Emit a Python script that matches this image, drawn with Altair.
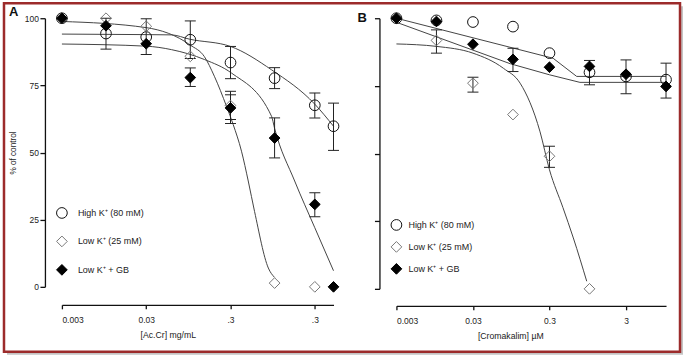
import altair as alt
import pandas as pd

FONT = "Liberation Sans"
SERIES = ["High K\u207a (80 mM)", "Low K\u207a (25 mM)", "Low K\u207a + GB"]
SHAPES = ["circle", "diamond", "diamond"]
FILLS = ["transparent", "transparent", "#000000"]
STROKES = ["#111111", "#777777", "#000000"]

# ---------------- Panel A : [Ac.Cr] mg/mL ----------------
A_HIGH_X = [0.003, 0.01, 0.03, 0.1, 0.3, 1, 3, 5]
A_HIGH_Y = [100, 94.3, 93.0, 92.0, 83.5, 77.7, 67.6, 59.8]
A_LOW_X = [0.003, 0.01, 0.03, 0.1, 0.3, 1, 3]
A_LOW_Y = [100, 100, 97.0, 85.8, 67.5, 1.4, 0]
A_GB_X = [0.003, 0.01, 0.03, 0.1, 0.3, 1, 3, 5]
A_GB_Y = [100, 97.2, 90.5, 77.9, 66.6, 55.4, 30.7, 0]

A_ERR_SERIES = [0, 0, 0, 0, 0, 0, 0, 1, 2, 2, 2, 2]
A_ERR_X = [0.01, 0.03, 0.1, 0.3, 1, 3, 5, 0.3, 0.1, 0.3, 1, 3]
A_ERR_LO = [88.5, 86.5, 85.0, 77.5, 73.8, 62.9, 50.8, 60.8, 74.6, 62.3, 48.0, 26.1]
A_ERR_HI = [100, 99.8, 99.0, 89.5, 81.6, 72.2, 68.4, 71.5, 81.5, 72.8, 62.9, 35.0]

A_FIT_HIGH_X = [0.003, 0.03, 0.06, 0.098, 0.3, 0.92, 3, 5]
A_FIT_HIGH_Y = [94.1, 93.9, 93.8, 92.2, 89.5, 80.8, 68.0, 59.8]
A_FIT_LOW_X = [0.003, 0.03, 0.1, 0.147, 0.193, 0.269, 0.323, 0.405, 0.487, 0.579, 0.843, 1.0]
A_FIT_LOW_Y = [98.8, 96.5, 90.0, 85.7, 78.4, 67.2, 60.4, 50.5, 39.4, 28.0, 7.0, 3.5]
A_FIT_GB_X = [0.003, 0.03, 0.06, 0.148, 0.308, 0.92, 1.0, 1.73, 3, 5]
A_FIT_GB_Y = [90.4, 89.6, 88.3, 84.6, 79.6, 63.5, 59.0, 39.4, 22.0, 6.0]

A_TICKS = [0.003, 0.03, 0.3, 3]
A_TICK_LABELS = ["0.003", "0.03", ".3", ".3"]

# ---------------- Panel B : [Cromakalim] µM ----------------
B_HIGH_X = [0.003, 0.01, 0.03, 0.1, 0.3, 1, 3, 10]
B_HIGH_Y = [100, 99.2, 98.6, 96.9, 87.1, 80.0, 78.5, 77.3]
B_LOW_X = [0.003, 0.01, 0.03, 0.1, 0.3, 1]
B_LOW_Y = [100, 91.8, 76.0, 64.4, 49.0, 0]
B_GB_X = [0.003, 0.01, 0.03, 0.1, 0.3, 1, 3, 10]
B_GB_Y = [100, 98.8, 90.4, 84.8, 81.9, 82.2, 79.3, 74.8]

B_ERR_SERIES = [1, 1, 2, 1, 0, 2, 2]
B_ERR_X = [0.01, 0.03, 0.1, 0.3, 1, 3, 10]
B_ERR_LO = [87.1, 72.7, 80.3, 44.9, 75.4, 72.1, 70.5]
B_ERR_HI = [95.7, 78.2, 88.9, 52.7, 84.4, 84.6, 83.4]

B_FIT_HIGH_X = [0.003, 0.335, 0.68, 10]
B_FIT_HIGH_Y = [100, 85.2, 78.5, 78.5]
B_FIT_LOW_X = [0.003, 0.01, 0.03, 0.075, 0.124, 0.226, 0.3, 0.45, 0.615, 0.92]
B_FIT_LOW_Y = [90.5, 89.6, 87.1, 81.5, 76.0, 58.0, 44.0, 30.0, 18.8, 2.8]
B_FIT_GB_X = [0.003, 0.092, 0.3, 0.75, 10]
B_FIT_GB_Y = [98.5, 83.2, 79.1, 76.3, 76.3]

B_TICKS = [0.003, 0.03, 0.3, 3]
B_TICK_LABELS = ["0.003", "0.03", "0.3", "3"]

Y_TICKS = [0, 25, 50, 75, 100]


def points_df(xs_list, ys_list, idx=None):
    rows = []
    idx = idx if idx is not None else range(len(xs_list))
    for i, xs, ys in zip(idx, xs_list, ys_list):
        for x, y in zip(xs, ys):
            rows.append({"conc": x, "val": y, "series": SERIES[i]})
    return pd.DataFrame(rows)


def err_df(ser, xs, lo, hi):
    return pd.DataFrame({"conc": xs, "lo": lo, "hi": hi,
                         "series": [SERIES[s] for s in ser]})


def label_expr(ticks, labels):
    expr = "''"
    for t, l in reversed(list(zip(ticks, labels))):
        expr = f"(abs(datum.value - {t}) < {t} * 0.01) ? '{l}' : ({expr})"
    return expr


def panel(pts, errs, smooth_fits, linear_fits, xdom, width, height, ticks,
          tick_labels, xtitle, xtitle_x, ytitle, show_ylabels, leg_x, leg_y,
          leg_row, leg_off, letter, letter_dx, letter_dy, decor=None, yoff=17,
          xoff=18):
    xax = alt.Axis(values=ticks, labelExpr=label_expr(ticks, tick_labels),
                   offset=xoff, title=xtitle, titleX=xtitle_x, tickSize=4,
                   labelPadding=7, titlePadding=6, grid=False, zindex=1)
    yax = alt.Axis(values=Y_TICKS, offset=yoff, title=ytitle, labels=show_ylabels,
                   tickSize=5, labelPadding=1.5, titlePadding=7, grid=False,
                   zindex=1)
    xscale = alt.Scale(type="log", domain=xdom, nice=False)
    yscale = alt.Scale(domain=[0, 100], nice=False)

    def X(f):
        return alt.X(f, type="quantitative", scale=xscale, axis=xax)

    def Y(f):
        return alt.Y(f, type="quantitative", scale=yscale, axis=yax)

    leg = alt.Legend(title=None, orient="none", legendX=leg_x, legendY=leg_y,
                     rowPadding=leg_row, labelOffset=leg_off, padding=0,
                     symbolSize=115, symbolStrokeWidth=1, symbolOpacity=1,
                     labelFont=FONT, labelFontSize=9, labelColor="#222222",
                     labelLimit=200, zindex=1)

    layers = []
    if decor is not None:
        layers += decor
    if smooth_fits is not None:
        layers.append(alt.Chart(smooth_fits).mark_line(
            color="#444444", strokeWidth=1, interpolate="monotone").encode(
            x=X("conc"), y=Y("val"), detail="series:N"))
    if linear_fits is not None:
        layers.append(alt.Chart(linear_fits).mark_line(
            color="#444444", strokeWidth=1, interpolate="linear").encode(
            x=X("conc"), y=Y("val"), detail="series:N"))
    layers.append(alt.Chart(errs).mark_rule(color="#222222", strokeWidth=1).encode(
        x=X("conc"), y=Y("lo"), y2="hi:Q"))
    layers.append(alt.Chart(errs).transform_fold(["lo", "hi"], as_=["end", "yv"]).mark_tick(
        orient="horizontal", size=11, thickness=1, color="#222222", opacity=1).encode(
        x=X("conc"), y=Y("yv")))
    layers.append(alt.Chart(pts).mark_point(filled=True, opacity=1, size=115,
                                            strokeWidth=1).encode(
        x=X("conc"), y=Y("val"),
        shape=alt.Shape("series:N", scale=alt.Scale(domain=SERIES, range=SHAPES), legend=leg),
        fill=alt.Fill("series:N", scale=alt.Scale(domain=SERIES, range=FILLS), legend=leg),
        stroke=alt.Stroke("series:N", scale=alt.Scale(domain=SERIES, range=STROKES), legend=leg),
    ))
    return alt.layer(*layers).properties(
        width=width, height=height,
        title=alt.TitleParams(letter, anchor="start", frame="group", dx=letter_dx,
                              dy=letter_dy, offset=0, baseline="alphabetic",
                              font=FONT, fontSize=13, fontWeight="bold",
                              color="#111111"),
    )


WA, HA = 272, 269
WB, HB = 270, 271
# decorative frame of the figure (screenshot border with shadow), in panel A pixels
one = alt.Data(values=[{}])
shadow = alt.Chart(one).mark_rect(fill="#c4c4c4").encode(
    x=alt.value(-55), x2=alt.value(622), y=alt.value(-12), y2=alt.value(337))
frame = alt.Chart(one).mark_rect(fill="white", stroke="#9c2b2b", strokeWidth=2.5).encode(
    x=alt.value(-58), x2=alt.value(619), y=alt.value(-15), y2=alt.value(334))

pa = panel(points_df([A_HIGH_X, A_LOW_X, A_GB_X], [A_HIGH_Y, A_LOW_Y, A_GB_Y]),
           err_df(A_ERR_SERIES, A_ERR_X, A_ERR_LO, A_ERR_HI),
           points_df([A_FIT_HIGH_X, A_FIT_LOW_X, A_FIT_GB_X],
                     [A_FIT_HIGH_Y, A_FIT_LOW_Y, A_FIT_GB_Y]),
           None,
           [0.003, 5], WA, HA, A_TICKS, A_TICK_LABELS, "[Ac.Cr] mg/mL", 106,
           "% of control", True, -6, 189, 12.5, 10, "A", -53, 27,
           decor=[shadow, frame], yoff=17, xoff=18)

pb = panel(points_df([B_HIGH_X, B_LOW_X, B_GB_X], [B_HIGH_Y, B_LOW_Y, B_GB_Y]),
           err_df(B_ERR_SERIES, B_ERR_X, B_ERR_LO, B_ERR_HI),
           points_df([B_FIT_LOW_X], [B_FIT_LOW_Y], idx=[1]),
           points_df([B_FIT_HIGH_X, B_FIT_GB_X], [B_FIT_HIGH_Y, B_FIT_GB_Y], idx=[0, 2]),
           [0.003, 10], WB, HB, B_TICKS, B_TICK_LABELS, "[Cromakalim] \u00b5M", 114,
           "", False, -6, 201, 6, 6, "B", -39, 24, yoff=17, xoff=17)

chart = alt.hconcat(pa, pb, spacing=63, bounds="flush").resolve_scale(
    x="independent", y="independent", shape="independent",
    fill="independent", stroke="independent").resolve_legend(
    shape="independent", fill="independent", stroke="independent").properties(
    padding={"left": 2, "top": 1, "right": 3, "bottom": 3},
    background="white",
).configure_view(stroke=None).configure_axis(
    labelFont=FONT, titleFont=FONT, labelFontSize=8.5, titleFontSize=8.7,
    titleFontWeight="normal", labelColor="#222222", titleColor="#222222",
    domainColor="#111111", tickColor="#111111", domainWidth=1.3, tickWidth=1.3,
).configure_axisY(titleFontSize=8.2)

chart.save("out.html", embed_options={"renderer": "svg", "actions": False})
